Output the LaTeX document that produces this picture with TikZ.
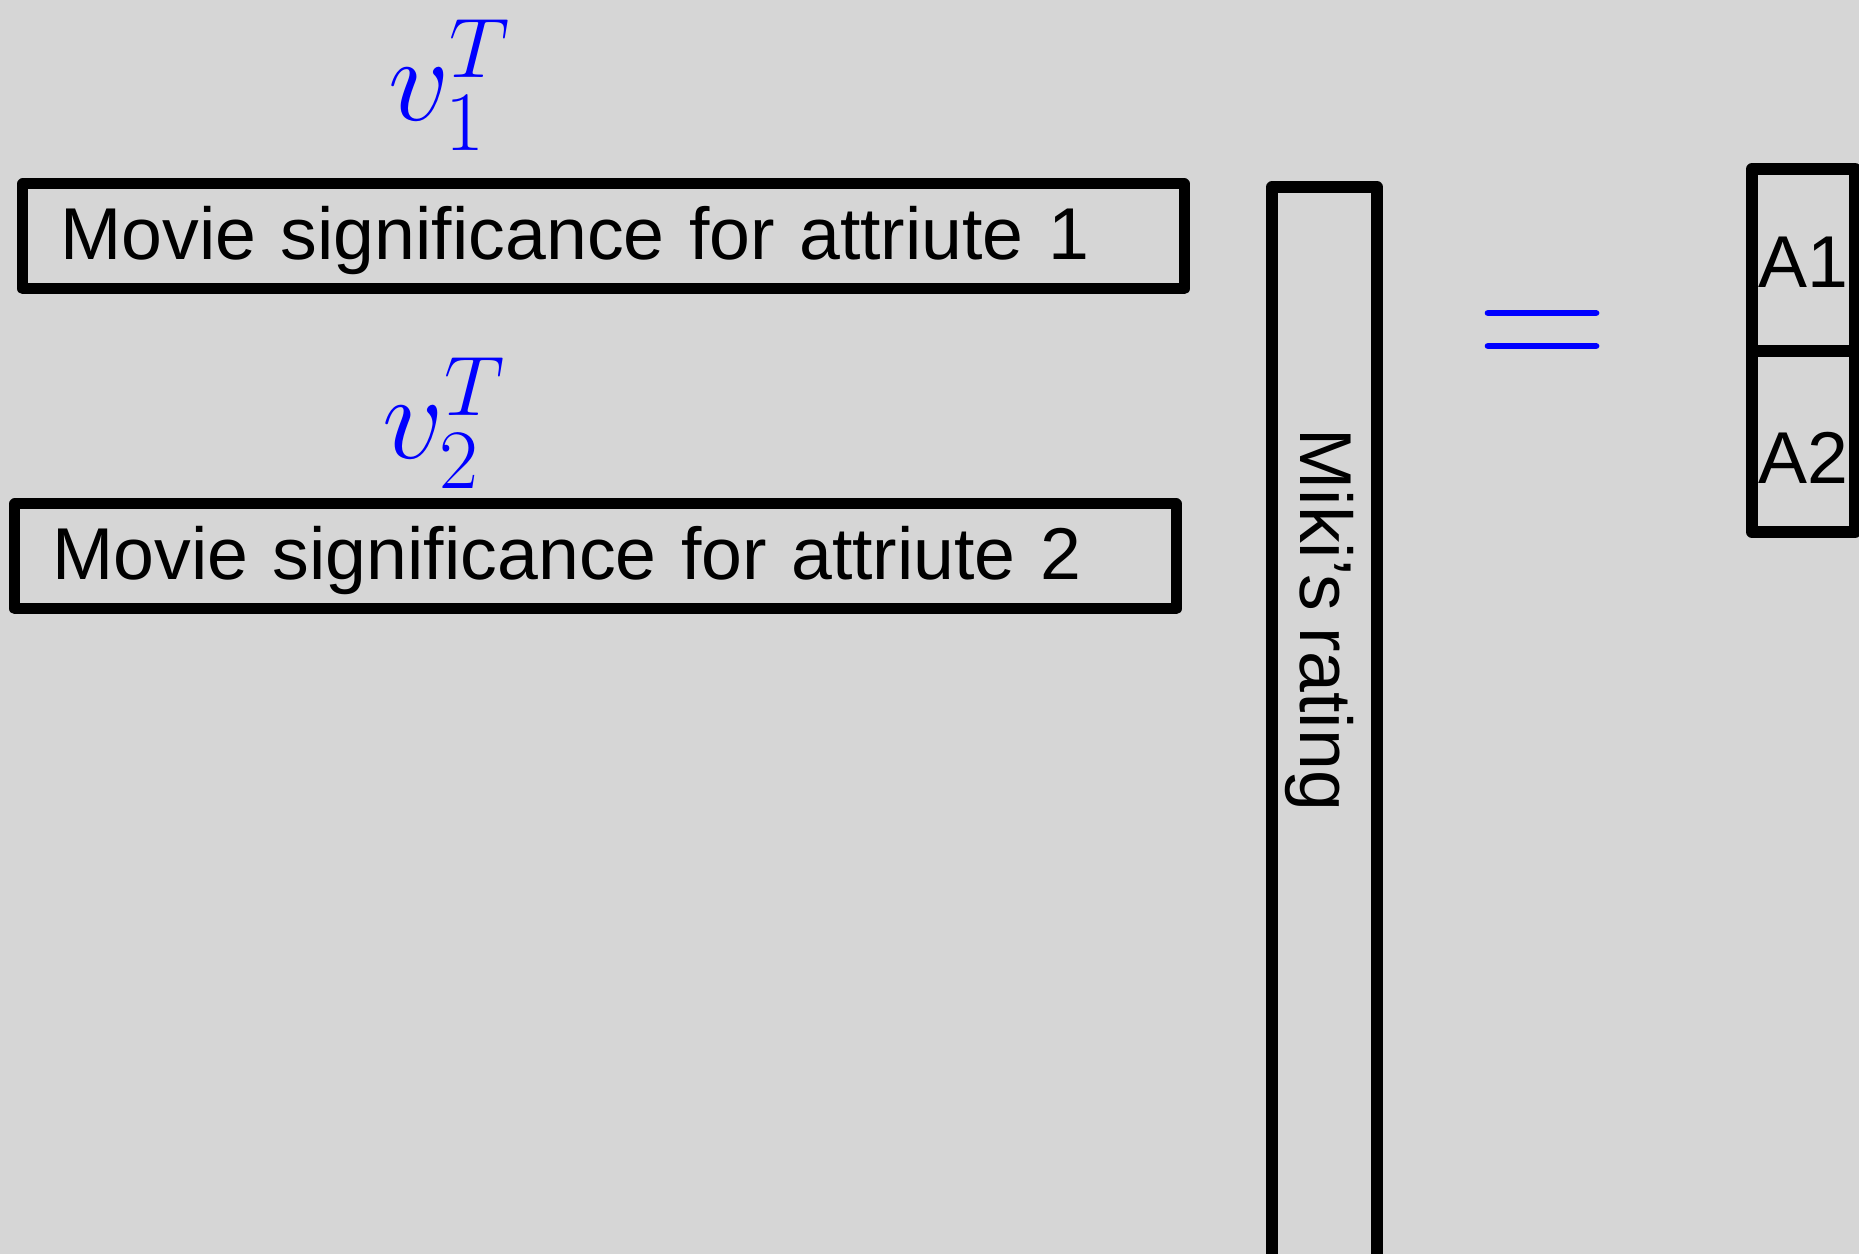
\documentclass[tikz,border=0pt]{standalone}
\usepackage{fix-cm}
\usepackage[no-math]{fontspec}
\setmainfont[WordSpace=0.8]{Liberation Sans}
\usepackage{xcolor}
\usetikzlibrary{positioning}
\definecolor{bggray}{RGB}{214,214,214}
\newcommand\mainsize{\fontsize{20.9}{25}\selectfont}
\newcommand\vlabelsize{\fontsize{34.4}{40}\selectfont}

\begin{document}
\begin{tikzpicture}[
  rowbox/.style={draw,line width=0.11cm,line join=round,anchor=north west,
    text width=10.86cm,align=left,inner xsep=0.375cm,inner ysep=0pt,
    text height=0.61cm,text depth=0.155cm,
    outer sep=0pt,minimum height=1.05cm,font=\mainsize},
  colbox/.style={draw,line width=0.115cm,line join=round,minimum width=1.05cm,
    minimum height=11cm,anchor=north,inner sep=0pt,outer sep=0pt},
  cell/.style={draw,line width=0.12cm,line join=round,minimum width=1.03cm,
    inner sep=0pt,outer sep=0pt,font=\mainsize},
  vlabel/.style={blue,font=\vlabelsize,inner sep=0pt,anchor=base west},
  eqline/.style={blue,line width=0.067cm,line cap=round}]
\fill[bggray](0,0)rectangle(18.59,-12.54);
\useasboundingbox(0,0)rectangle(18.59,-12.54);
% left factor
\node (v1) [vlabel] at (3.875,-1.21) {$v_1^T$};
\node (row1) [rowbox] at (0.23,-1.84) {Movie significance for attriute 1};
\node (v2) [vlabel] at (3.82,-4.59) {$v_2^T$};
\node (row2) [rowbox] at (0.15,-5.04) {Movie significance for attriute 2};
% rating column
\node (miki) [colbox] at (13.245,-1.87) {};
\node (mikitext) [rotate=-90,anchor=base west,inner sep=0pt,font=\mainsize]
  at (13.00,-4.28) {Miki's rating};
% equals
\draw[eqline](14.88,-3.13)--(15.96,-3.13)
  (14.88,-3.46)--(15.96,-3.46);
% result
\node (a1) [cell,minimum height=1.82cm,text height=0.56cm] at (18.035,-2.60) {A1};
\node (a2) [cell,minimum height=1.81cm,text height=0.85cm,below=0pt of a1] {A2};
\end{tikzpicture}
\end{document}
